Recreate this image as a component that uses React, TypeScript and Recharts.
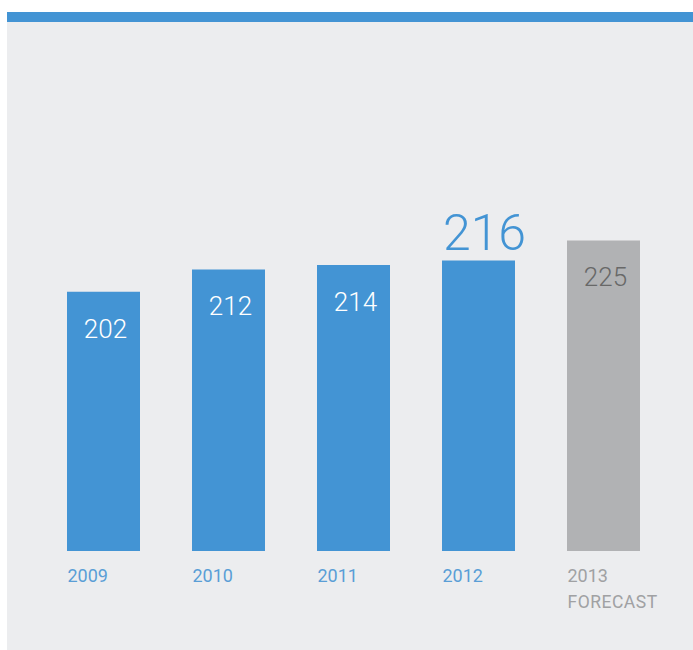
import { BarChart, Bar, XAxis, YAxis, Cell, LabelList } from 'recharts';

const years = ['2009', '2010', '2011', '2012', '2013'];
const values = [202, 212, 214, 216, 225];
const forecast = [false, false, false, false, true];
const highlightYear = '2012';

const data = years.map((year, i) => ({ year, value: values[i], forecast: forecast[i] }));

const BLUE = '#4394d4';
const GREY_BAR = '#b1b2b4';
const BG = '#ecedef';
const FONT = 'Roboto, "DejaVu Sans", sans-serif';

const YearTick = (props: any) => {
    const { x, y, payload, index } = props;
    const isForecast = forecast[index];
    const left = x - 36;
    return (
        <g>
            <text x={left} y={y} dy={23} fontSize={18} fontFamily={FONT} fill={isForecast ? '#a0a1a3' : '#5a9ed6'}>
                {payload.value}
            </text>
            {isForecast && (
                <text x={left} y={y} dy={49} fontSize={17.5} fontFamily={FONT} fill="#a0a1a3" letterSpacing={0.5}>
                    FORECAST
                </text>
            )}
        </g>
    );
};

const ValueLabel = (props: any) => {
    const { x, y, width, value, index } = props;
    const d = data[index];
    const cx = x + width / 2;
    if (d.year === highlightYear) {
        return (
            <text x={cx + 6} y={y - 11} textAnchor="middle" fontSize={50} fontWeight={300} fontFamily={FONT} fill={BLUE}>
                {value}
            </text>
        );
    }
    return (
        <text x={cx + 2} y={y + 46} textAnchor="middle" fontSize={26} fontWeight={300} fontFamily={FONT}
            fill={d.forecast ? '#686868' : '#ffffff'}>
            {value}
        </text>
    );
};

export default function App() {
    return (
        <div style={{ position: 'absolute', left: 0, top: 0, width: 693, height: 650 }}>
            <div style={{ position: 'absolute', left: 7, top: 12, width: 686, height: 10, background: BLUE }} />
            <div style={{ position: 'absolute', left: 7, top: 22, width: 686, height: 628, background: BG }} />
            <div style={{ position: 'absolute', left: 0, top: 0 }}>
                <BarChart width={693} height={650} data={data} margin={{ top: 160, right: 27, bottom: 0, left: 41 }}>
                    <XAxis dataKey="year" axisLine={false} tickLine={false} height={99} tick={<YearTick />} interval={0} />
                    <YAxis hide domain={[86, 261]} allowDataOverflow />
                    <Bar dataKey="value" barSize={73} isAnimationActive={false}>
                        {data.map((d, i) => (
                            <Cell key={`cell-${i}`} fill={d.forecast ? GREY_BAR : BLUE} />
                        ))}
                        <LabelList dataKey="value" content={<ValueLabel />} />
                    </Bar>
                </BarChart>
            </div>
        </div>
    );
}
